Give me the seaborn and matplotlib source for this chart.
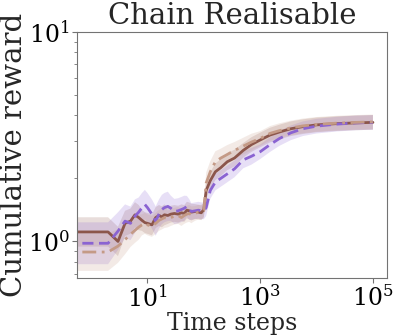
import numpy as np
import pandas as pd
import seaborn as sns
import matplotlib
matplotlib.use("Agg")
import matplotlib.pyplot as plt
from matplotlib.ticker import FixedLocator, NullFormatter, NullLocator, LogLocator

# data
steps = [0, 1, 2, 3, 4, 5, 6, 7, 8, 9, 10, 12, 14, 16, 18, 20, 23, 26, 30, 35,
         40, 45, 50, 55, 60, 70, 80, 90, 100, 110, 130, 160, 200, 260, 350,
         500, 700, 1000, 1500, 2200, 3500, 5700, 10000, 23000, 50000, 100000]

brown_mean = [1.11, 1.11, 1.11, 1.00, 1.22, 1.25, 1.34, 1.30, 1.26, 1.23, 1.22,
              1.20, 1.30, 1.33, 1.31, 1.34, 1.33, 1.35, 1.36, 1.35, 1.37, 1.36,
              1.41, 1.40, 1.38, 1.39, 1.38, 1.37, 1.42, 1.75, 1.95, 2.15, 2.25,
              2.40, 2.50, 2.72, 2.90, 3.05, 3.22, 3.33, 3.45, 3.53, 3.60, 3.65,
              3.68, 3.70]
purple_mean = [0.98, 0.98, 0.98, 1.12, 1.25, 1.22, 1.32, 1.38, 1.45, 1.50, 1.45,
               1.35, 1.25, 1.35, 1.42, 1.45, 1.47, 1.44, 1.39, 1.40, 1.42, 1.44,
               1.47, 1.42, 1.39, 1.40, 1.41, 1.40, 1.40, 1.45, 1.75, 1.92, 2.00,
               2.10, 2.22, 2.45, 2.55, 2.68, 2.90, 3.10, 3.30, 3.45, 3.55, 3.63,
               3.68, 3.70]
tan_mean = [0.89, 0.89, 0.89, 0.95, 1.02, 1.08, 1.13, 1.17, 1.20, 1.22, 1.20,
            1.18, 1.22, 1.26, 1.28, 1.30, 1.28, 1.30, 1.32, 1.33, 1.30, 1.33,
            1.35, 1.36, 1.34, 1.36, 1.38, 1.38, 1.40, 1.90, 2.15, 2.40, 2.50,
            2.60, 2.72, 2.85, 2.98, 3.10, 3.28, 3.38, 3.48, 3.56, 3.62, 3.67,
            3.70, 3.72]

# half width of the shaded band, in decades
brown_spread = [0.07, 0.07, 0.07, 0.07, 0.06, 0.06, 0.06, 0.06, 0.05, 0.05, 0.05,
                0.05, 0.05, 0.05, 0.05, 0.05, 0.04, 0.04, 0.04, 0.04, 0.04, 0.04,
                0.04, 0.04, 0.04, 0.035, 0.035, 0.035, 0.035, 0.04, 0.04, 0.04,
                0.04, 0.04, 0.04, 0.035, 0.035, 0.035, 0.035, 0.035, 0.035,
                0.035, 0.035, 0.035, 0.035, 0.035]
purple_spread = [0.10, 0.10, 0.10, 0.09, 0.08, 0.08, 0.08, 0.07, 0.07, 0.07, 0.07,
                 0.07, 0.07, 0.07, 0.07, 0.07, 0.07, 0.06, 0.06, 0.06, 0.06, 0.06,
                 0.05, 0.05, 0.04, 0.04, 0.04, 0.04, 0.04, 0.04, 0.04, 0.04,
                 0.04, 0.04, 0.04, 0.04, 0.04, 0.035, 0.035, 0.035, 0.035,
                 0.035, 0.035, 0.035, 0.035, 0.035]
tan_spread = [0.09, 0.09, 0.09, 0.08, 0.07, 0.06, 0.06, 0.06, 0.05, 0.05, 0.05,
              0.05, 0.05, 0.05, 0.05, 0.05, 0.04, 0.04, 0.04, 0.04, 0.04, 0.04,
              0.04, 0.04, 0.04, 0.035, 0.035, 0.035, 0.035, 0.05, 0.05, 0.05,
              0.045, 0.045, 0.04, 0.04, 0.04, 0.035, 0.035, 0.035, 0.035,
              0.035, 0.035, 0.035, 0.035, 0.035]

series = ["brown", "purple", "tan"]
means = {"brown": brown_mean, "purple": purple_mean, "tan": tan_mean}
spreads = {"brown": brown_spread, "purple": purple_spread, "tan": tan_spread}
colors = {"brown": "#8c564b", "purple": "#8a63d2", "tan": "#c49a86"}
dashes = {"brown": "", "purple": (4, 2), "tan": (5, 2, 1, 2)}

rows = []
for s in series:
    for t, v in zip(steps, means[s]):
        rows.append({"step": t, "reward": v, "agent": s})
df = pd.DataFrame(rows)

sns.set_style("ticks", {"axes.edgecolor": "0.45", "xtick.color": "0.45",
                        "ytick.color": "0.45"})
plt.rcParams["font.family"] = ["DejaVu Serif"]
plt.rcParams["mathtext.fontset"] = "dejavuserif"

fig, ax = plt.subplots(figsize=(3.99, 3.36), dpi=100)
fig.subplots_adjust(left=0.193, right=0.970, top=0.905, bottom=0.173)

for s in series:
    m = np.array(means[s])
    sp = np.array(spreads[s])
    ax.fill_between(steps, m / 10 ** sp, m * 10 ** sp, color=colors[s],
                    alpha=0.2, linewidth=0)

sns.lineplot(data=df, x="step", y="reward", hue="agent", style="agent",
             hue_order=series, style_order=series, palette=colors,
             dashes=dashes, linewidth=2.0, legend=False, ax=ax)

ax.set_xscale("log")
ax.set_yscale("log")
ax.set_xlim(10 ** -0.25, 10 ** 5.25)
ax.set_ylim(0.67, 10)

ax.xaxis.set_major_locator(FixedLocator([10, 1e3, 1e5]))
ax.xaxis.set_minor_locator(NullLocator())
ax.yaxis.set_major_locator(FixedLocator([1, 10]))
ax.yaxis.set_minor_locator(LogLocator(base=10, subs=np.arange(2, 10)))
ax.yaxis.set_minor_formatter(NullFormatter())
ax.tick_params(axis="both", labelsize=17, labelcolor="black", pad=2)

ax.set_title("Chain Realisable", fontsize=21)
ax.set_xlabel("Time steps", fontsize=17, labelpad=0)
ax.set_ylabel("Cumulative reward", fontsize=21, labelpad=0)

fig.savefig("out.png", dpi=100)
